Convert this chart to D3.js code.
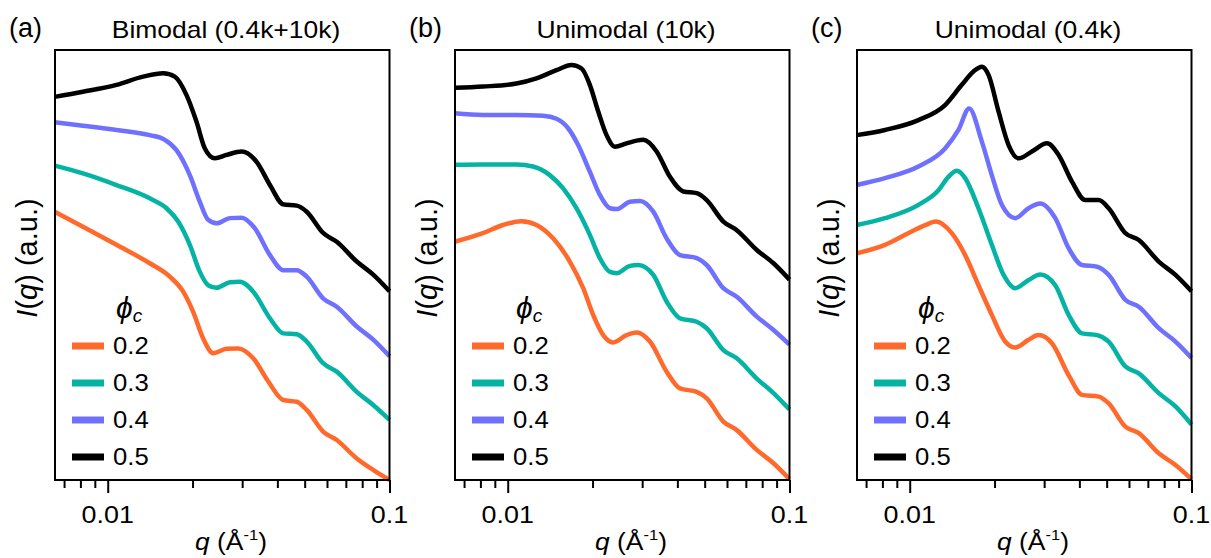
<!DOCTYPE html>
<html>
<head>
<meta charset="utf-8">
<script src="https://cdn.jsdelivr.net/npm/d3@7/dist/d3.min.js"></script>
<style>
  html, body { margin: 0; padding: 0; background: #fff; }
  svg { display: block; }
  text { font-family: "Liberation Sans", Arial, Helvetica, sans-serif; fill: #000; }
</style>
</head>
<body>
<svg id="chart" width="1211" height="558"></svg>
<script>
// ---------- data (q in 1/Angstrom, log-intensity in arbitrary offset units) ----------
const panelLetters = ["(a)", "(b)", "(c)"];
const panelTitles = ["Bimodal (0.4k+10k)", "Unimodal (10k)", "Unimodal (0.4k)"];
const phiLevels = ["0.2", "0.3", "0.4", "0.5"];
const xTickLabels = ["0.01", "0.1"];
const xMinorTicks = [0.007, 0.008, 0.009, 0.02, 0.03, 0.04, 0.05, 0.06, 0.07, 0.08, 0.09];

// Panel (a) Bimodal (0.4k+10k)
const bimodal_02 = [[0.00648,6.24],[0.00817,5.89],[0.01074,5.47],[0.0141,5.04],[0.01661,4.73],[0.01853,4.38],[0.0201,3.91],[0.02182,3.29],[0.02368,2.95],[0.02641,3.05],[0.02905,3.06],[0.03285,2.83],[0.03714,2.29],[0.04199,1.86],[0.04684,1.82],[0.05083,1.63],[0.05826,1.12],[0.06499,0.93],[0.07653,0.50],[0.08773,0.23],[0.1,0.0]];
const bimodal_03 = [[0.00648,7.31],[0.00817,7.13],[0.01074,6.86],[0.0141,6.55],[0.01617,6.32],[0.01778,6.01],[0.01956,5.47],[0.02123,4.84],[0.02273,4.53],[0.02434,4.47],[0.02714,4.60],[0.02945,4.61],[0.03285,4.38],[0.03765,3.76],[0.04199,3.41],[0.04684,3.39],[0.05083,3.22],[0.05826,2.71],[0.06499,2.52],[0.07653,2.05],[0.08773,1.74],[0.1,1.40]];
const bimodal_04 = [[0.00648,8.32],[0.00817,8.24],[0.01074,8.14],[0.0141,8.02],[0.01595,7.91],[0.01754,7.67],[0.01956,7.09],[0.02123,6.47],[0.02273,6.05],[0.02434,5.97],[0.02714,6.09],[0.02986,6.10],[0.0333,5.85],[0.03765,5.23],[0.04199,4.88],[0.04684,4.88],[0.05083,4.73],[0.05826,4.22],[0.06499,4.03],[0.07653,3.57],[0.08773,3.26],[0.1,2.88]];
const bimodal_05 = [[0.00648,8.91],[0.00817,9.03],[0.01074,9.19],[0.01335,9.38],[0.01573,9.46],[0.0173,9.38],[0.01904,8.95],[0.02066,8.33],[0.02212,7.71],[0.02401,7.48],[0.02641,7.56],[0.02986,7.64],[0.03376,7.40],[0.03765,6.86],[0.04199,6.41],[0.04684,6.38],[0.05083,6.24],[0.05826,5.74],[0.06499,5.54],[0.07653,5.08],[0.08773,4.77],[0.1,4.39]];

// Panel (b) Unimodal (10k)
const uni10k_02 = [[0.00648,5.54],[0.00817,5.74],[0.00962,5.93],[0.01118,6.02],[0.01265,5.93],[0.01449,5.62],[0.01661,5.08],[0.01853,4.46],[0.0201,3.84],[0.02182,3.37],[0.02368,3.20],[0.02641,3.37],[0.02866,3.43],[0.03197,3.22],[0.03664,2.52],[0.04087,2.13],[0.04684,2.05],[0.05083,1.90],[0.05826,1.36],[0.06499,1.16],[0.07653,0.70],[0.08773,0.39],[0.1,0.02]];
const uni10k_03 = [[0.00648,7.33],[0.00817,7.34],[0.01074,7.34],[0.0123,7.29],[0.0141,7.09],[0.01573,6.78],[0.01754,6.32],[0.01956,5.70],[0.02123,5.16],[0.02305,4.84],[0.02434,4.81],[0.02714,4.98],[0.02905,5.00],[0.03285,4.77],[0.03664,4.15],[0.04087,3.76],[0.04684,3.68],[0.05083,3.53],[0.05826,3.02],[0.06499,2.83],[0.07653,2.36],[0.08773,2.02],[0.1,1.64]];
const uni10k_04 = [[0.00648,8.53],[0.00817,8.49],[0.01074,8.49],[0.01335,8.47],[0.01489,8.40],[0.01638,8.18],[0.01778,7.79],[0.01956,7.17],[0.02123,6.63],[0.02305,6.32],[0.02434,6.30],[0.02714,6.47],[0.02945,6.49],[0.03285,6.24],[0.03664,5.62],[0.04087,5.23],[0.04684,5.16],[0.05083,5.00],[0.05826,4.46],[0.06499,4.26],[0.07653,3.80],[0.08773,3.49],[0.1,3.15]];
const uni10k_05 = [[0.00648,9.12],[0.00817,9.15],[0.01074,9.22],[0.01265,9.34],[0.01489,9.53],[0.01684,9.65],[0.01828,9.57],[0.01956,9.19],[0.02095,8.57],[0.02243,8.02],[0.02401,7.75],[0.02641,7.83],[0.03027,7.91],[0.03376,7.64],[0.03765,7.05],[0.04199,6.71],[0.04684,6.67],[0.05083,6.51],[0.05826,6.01],[0.06499,5.81],[0.07653,5.35],[0.08773,5.04],[0.1,4.66]];

// Panel (c) Unimodal (0.4k)
const uni04k_02 = [[0.00648,5.27],[0.00817,5.47],[0.01016,5.78],[0.0113,5.92],[0.0124,6.01],[0.0141,5.74],[0.01573,5.23],[0.01754,4.53],[0.01956,3.84],[0.02182,3.22],[0.02368,3.08],[0.02641,3.26],[0.02866,3.37],[0.03197,3.18],[0.03664,2.44],[0.04087,1.98],[0.04684,1.94],[0.05083,1.78],[0.05826,1.24],[0.06499,1.09],[0.07653,0.62],[0.08773,0.35],[0.1,0.02]];
const uni04k_03 = [[0.00648,5.93],[0.00817,6.09],[0.01074,6.40],[0.01265,6.74],[0.01372,7.05],[0.01469,7.19],[0.01573,7.02],[0.01754,6.32],[0.01956,5.47],[0.02153,4.77],[0.02368,4.46],[0.02641,4.65],[0.02905,4.78],[0.03285,4.53],[0.03664,3.84],[0.04087,3.41],[0.04622,3.37],[0.05083,3.22],[0.05826,2.64],[0.06499,2.48],[0.07653,2.02],[0.08773,1.71],[0.1,1.29]];
const uni04k_04 = [[0.00648,6.86],[0.00817,7.02],[0.01074,7.29],[0.01335,7.71],[0.01489,8.14],[0.01625,8.64],[0.01803,7.87],[0.01956,7.09],[0.02123,6.40],[0.02368,6.09],[0.02641,6.32],[0.02905,6.43],[0.03285,6.09],[0.03664,5.39],[0.04087,5.00],[0.04622,4.96],[0.05083,4.77],[0.05826,4.19],[0.06499,4.03],[0.07653,3.53],[0.08773,3.22],[0.1,2.84]];
const uni04k_05 = [[0.00648,8.02],[0.00817,8.14],[0.01074,8.37],[0.01335,8.72],[0.0153,9.19],[0.01684,9.50],[0.01803,9.61],[0.01904,9.42],[0.02066,8.57],[0.02243,7.79],[0.02434,7.48],[0.02714,7.64],[0.03069,7.83],[0.03376,7.56],[0.03765,6.94],[0.04199,6.51],[0.04684,6.51],[0.05083,6.32],[0.05826,5.74],[0.06499,5.58],[0.07653,5.08],[0.08773,4.77],[0.1,4.39]];

const panelSeries = [
  [bimodal_02, bimodal_03, bimodal_04, bimodal_05],
  [uni10k_02, uni10k_03, uni10k_04, uni10k_05],
  [uni04k_02, uni04k_03, uni04k_04, uni04k_05]
];
const seriesColors = ["#ff6a2c", "#05b3a4", "#7070ff", "#000000"];

// ---------- layout ----------
const panelLefts = [55, 455, 857];
const panelW = 334.5, plotTop = 50, plotBottom = 480;

const svg = d3.select("#chart");

function stretchedText(g, x, y, str, size, anchor, sx) {
  return g.append("text")
    .attr("transform", `translate(${x},${y}) scale(${sx},1)`)
    .attr("font-size", size)
    .attr("text-anchor", anchor || "start")
    .text(str);
}

panelLefts.forEach((L, pi) => {
  const x = d3.scaleLog().domain([0.0065, 0.1]).range([L, L + panelW]);
  const y = d3.scaleLinear().domain([0, 10]).range([plotBottom, plotTop]);
  const g = svg.append("g");

  // curves
  const line = d3.line().x(d => x(d[0])).y(d => y(d[1])).curve(d3.curveMonotoneX);
  panelSeries[pi].forEach((s, si) => {
    g.append("path").datum(s)
      .attr("d", line)
      .attr("fill", "none")
      .attr("stroke", seriesColors[si])
      .attr("stroke-width", 4.5)
      .attr("stroke-linejoin", "round")
      .attr("stroke-linecap", "butt");
  });

  // frame
  g.append("rect")
    .attr("x", L).attr("y", plotTop)
    .attr("width", panelW).attr("height", plotBottom - plotTop)
    .attr("fill", "none").attr("stroke", "#000").attr("stroke-width", 2);

  // x axis ticks
  const majorAxis = d3.axisBottom(x).tickValues(xTickLabels.map(Number)).tickSize(13).tickFormat("");
  const minorAxis = d3.axisBottom(x).tickValues(xMinorTicks).tickSize(8).tickFormat("");
  [majorAxis, minorAxis].forEach(ax => {
    const ag = g.append("g").attr("transform", `translate(0,${plotBottom})`).call(ax);
    ag.select(".domain").remove();
    ag.selectAll(".tick line").attr("stroke", "#000").attr("stroke-width", 2);
  });
  xTickLabels.forEach(lbl => {
    stretchedText(g, x(+lbl), 523, lbl, 24, "middle", 1.12);
  });

  // x axis title: q (Å^-1)
  const xt = g.append("text")
    .attr("transform", `translate(${L + 176},550) scale(1.1,1)`)
    .attr("font-size", 24).attr("text-anchor", "middle");
  xt.append("tspan").attr("font-style", "italic").text("q");
  xt.append("tspan").text(" (Å");
  xt.append("tspan").attr("font-size", 15).attr("dy", -10).text("-1");
  xt.append("tspan").attr("dy", 10).text(")");

  // y axis title: I(q) (a.u.)
  const yt = g.append("text")
    .attr("transform", `translate(${L - 18},258) rotate(-90)`)
    .attr("font-size", 29).attr("text-anchor", "middle");
  yt.append("tspan").attr("font-style", "italic").text("I");
  yt.append("tspan").text("(");
  yt.append("tspan").attr("font-style", "italic").text("q");
  yt.append("tspan").text(") (a.u.)");

  // panel letter and title
  stretchedText(g, L - 46, 37, panelLetters[pi], 27, "start", 1.0);
  stretchedText(g, L + 171, 38, panelTitles[pi], 23, "middle", 1.15);

  // legend
  const lt = g.append("text")
    .attr("transform", `translate(${L + 61},318)`)
    .attr("font-size", 30).attr("text-anchor", "start")
    .attr("font-family", "'DejaVu Serif', 'Liberation Serif', serif")
    .attr("font-style", "italic").attr("font-weight", "normal");
  lt.append("tspan").text("ϕ");
  lt.append("tspan").attr("font-size", 19).attr("dy", 4).text("c");

  const legendY = d3.scalePoint().domain(phiLevels).range([346, 457]);
  phiLevels.forEach((lv, si) => {
    g.append("line")
      .attr("x1", L + 17).attr("x2", L + 49)
      .attr("y1", legendY(lv)).attr("y2", legendY(lv))
      .attr("stroke", seriesColors[si]).attr("stroke-width", 7);
    stretchedText(g, L + 58, legendY(lv) + 7.5, lv, 24, "start", 1.07);
  });
});
</script>
</body>
</html>
